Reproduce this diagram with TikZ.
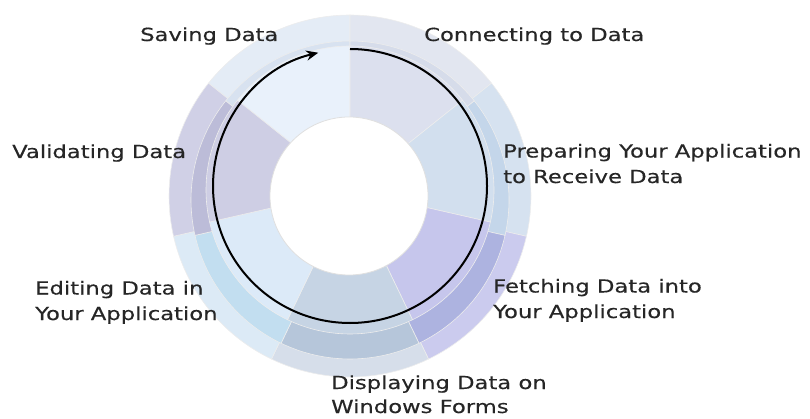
\documentclass[tikz,border=0pt]{standalone}
\usepackage{fontspec}
\setmainfont{DejaVu Sans}[FakeStretch=1.26,FakeBold=0.4]
\usetikzlibrary{arrows.meta}
\definecolor{txt}{HTML}{262626}
% Saving
\definecolor{rA}{HTML}{E4ECF6}\definecolor{bA}{HTML}{D8E2F0}\definecolor{iA}{HTML}{E9F1FB}
% Connecting
\definecolor{rB}{HTML}{E2E6F0}\definecolor{bB}{HTML}{D6DCEA}\definecolor{iB}{HTML}{DCE0EE}
% Preparing
\definecolor{rC}{HTML}{D6E2F0}\definecolor{bC}{HTML}{C4D6EA}\definecolor{iC}{HTML}{D2DFEE}
% Fetching
\definecolor{rD}{HTML}{CBCBEE}\definecolor{bD}{HTML}{ADB3E0}\definecolor{iD}{HTML}{C6C6EC}
% Displaying
\definecolor{rE}{HTML}{D6DEEA}\definecolor{bE}{HTML}{B6C6DA}\definecolor{iE}{HTML}{C6D4E4}
% Editing
\definecolor{rF}{HTML}{DCEAF6}\definecolor{bF}{HTML}{C2DEF0}\definecolor{iF}{HTML}{DCEAF8}
% Validating
\definecolor{rG}{HTML}{D0D0E6}\definecolor{bG}{HTML}{BCBCD8}\definecolor{iG}{HTML}{CECEE4}
\begin{document}
\begin{tikzpicture}[x=1pt,y=1pt,
  lbl/.style={inner sep=0pt, anchor=base west, align=left,
    font=\fontsize{18}{25.5}\selectfont, text=txt},
  segline/.style={draw=black!7, line width=0.6pt}]
\useasboundingbox (0,0) rectangle (810,418);
\coordinate (O1) at (350,222);
\coordinate (O2) at (350,218);
\coordinate (O3) at (350,228);
\coordinate (OH) at (349,222);
\coordinate (OA) at (350,232);
% rims
\foreach \a/\b/\c in {90/141.43/rA, 38.57/90/rB, -12.86/38.57/rC, -64.29/-12.86/rD,
  -115.71/-64.29/rE, -167.14/-115.71/rF, 141.43/192.86/rG}{
  \fill[\c, segline] (O1) -- ([shift={(\a:181)}]O1) arc[start angle=\a, end angle=\b, radius=181] -- cycle;
}
% bands
\foreach \a/\b/\c in {90/141.43/bA, 38.57/90/bB, -12.86/38.57/bC, -64.29/-12.86/bD,
  -115.71/-64.29/bE, -167.14/-115.71/bF, 141.43/192.86/bG}{
  \fill[\c, segline] (O2) -- ([shift={(\a:159)}]O2) arc[start angle=\a, end angle=\b, radius=159] -- cycle;
}
% inner faces
\foreach \a/\b/\c in {90/141.43/iA, 38.57/90/iB, -12.86/38.57/iC, -64.29/-12.86/iD,
  -115.71/-64.29/iE, -167.14/-115.71/iF, 141.43/192.86/iG}{
  \fill[\c, segline] (O3) -- ([shift={(\a:144)}]O3) arc[start angle=\a, end angle=\b, radius=144] -- cycle;
}
% hole
\fill[white, draw=black!12, line width=0.8pt] (OH) circle[radius=79];
% cycle arrow
\draw[line width=2pt, black, -{Stealth[length=12pt,width=10pt]}]
  ([shift={(90:137)}]OA) arc[start angle=90, end angle=-256.6, radius=137];
% labels (base anchor sits on the last line)
\node[lbl] (saving) at (140,377) {Saving Data};
\node[lbl] (connecting) at (424,377) {Connecting to Data};
\node[lbl] (preparing) at (503,235) {Preparing Your Application\\to Receive Data};
\node[lbl] (fetching) at (493,100) {Fetching Data into\\Your Application};
\node[lbl, font=\fontsize{18}{24}\selectfont] (displaying) at (331,5) {Displaying Data on\\Windows Forms};
\node[lbl] (editing) at (35,98) {Editing Data in\\Your Application};
\node[lbl] (validating) at (12,260) {Validating Data};
\end{tikzpicture}
\end{document}
